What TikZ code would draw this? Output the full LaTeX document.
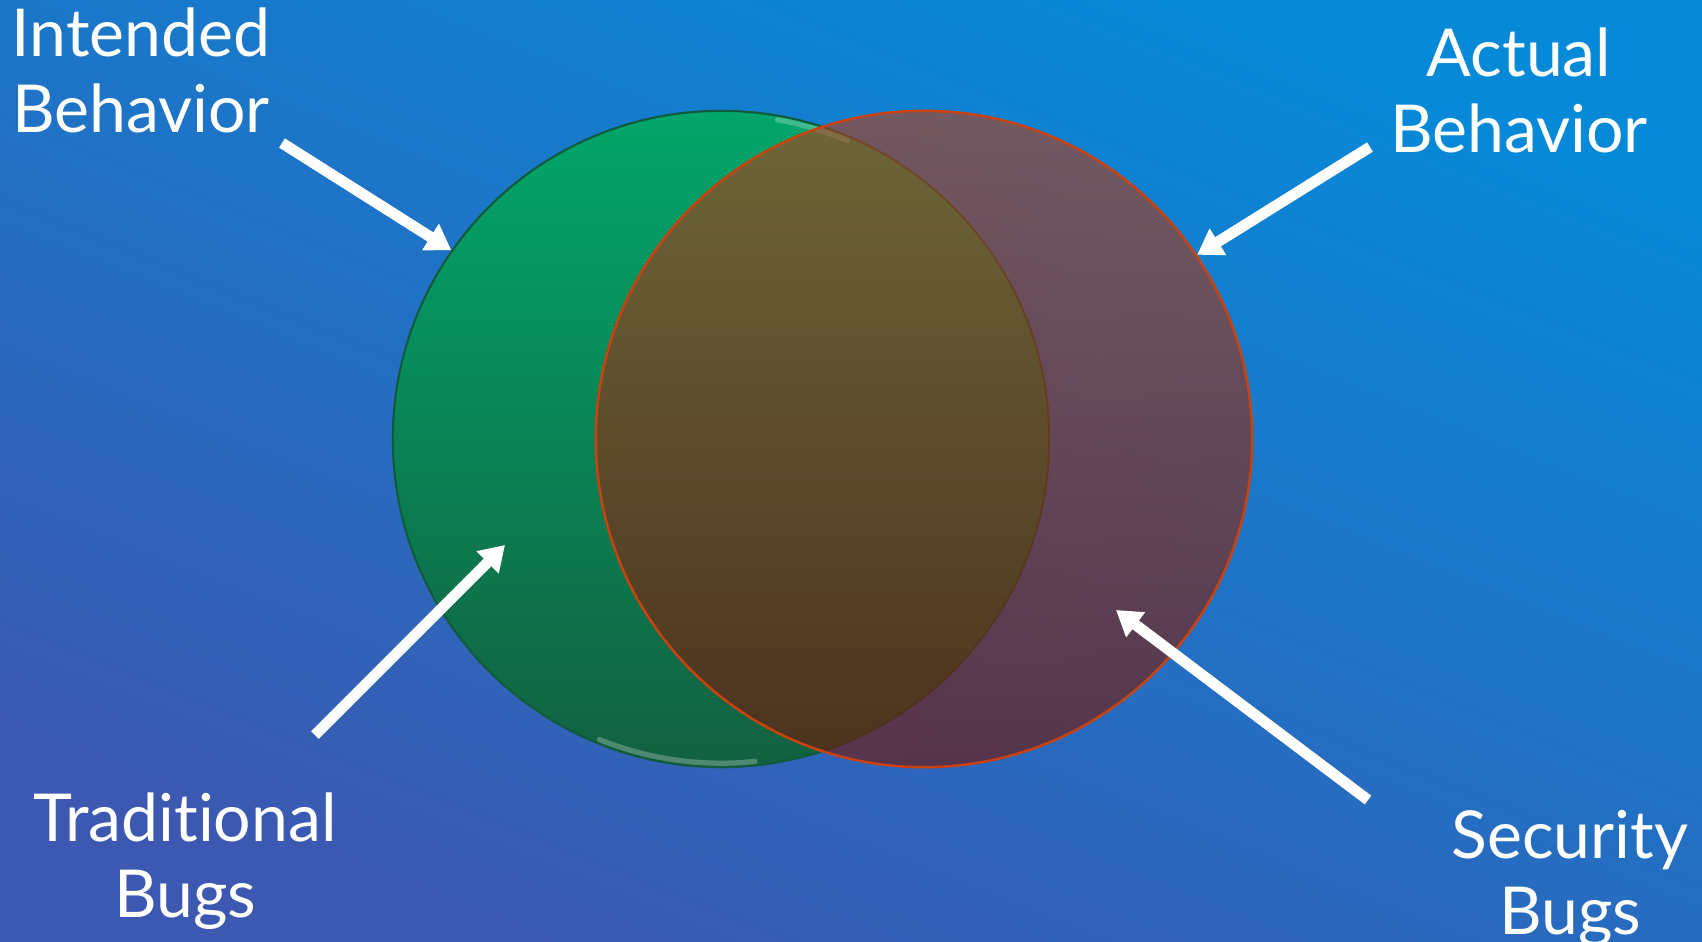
\documentclass[tikz,border=0pt]{standalone}
\usepackage{fontspec}
\setmainfont{Lato}[Ligatures=NoCommon]
\usepackage{xcolor}
\usetikzlibrary{arrows.meta,positioning}
\definecolor{bgtop}{RGB}{6,138,216}
\definecolor{bgbot}{RGB}{60,88,176}
\definecolor{greentop}{RGB}{2,166,106}
\definecolor{greenbot}{RGB}{18,96,64}
\definecolor{greenedge}{RGB}{16,90,62}
\definecolor{redtop}{RGB}{176,64,28}
\definecolor{redbot}{RGB}{112,22,8}
\definecolor{rededge}{RGB}{204,66,14}

\begin{document}
\begin{tikzpicture}[x=0.01cm, y=-0.01cm,
  lbl/.style={text=white, align=center, font=\fontsize{18.8}{21.5}\selectfont, inner sep=0pt, anchor=base},
  ptr/.style={white, line width=3.1pt, -{Triangle[width=8.5pt, length=7pt]}},
  gloss/.style={white, opacity=0.25, line width=1.5pt, line cap=round},
  setbox/.style={circle, minimum size=6.56cm, inner sep=0pt}]
\shade[top color=bgtop, bottom color=bgbot, shading angle=-22] (0,0) rectangle (1702,942);
\useasboundingbox (0,0) rectangle (1702,942);
% the two sets
\node[setbox, draw=greenedge, line width=0.6pt, top color=greentop, bottom color=greenbot] (intended) at (721,439) {};
\draw[gloss] ([shift={(248:3.24cm)}]intended.center) arc[start angle=248, end angle=276, radius=3.24cm];
\draw[gloss] ([shift={(67:3.24cm)}]intended.center) arc[start angle=67, end angle=80, radius=3.24cm];
\node[setbox, draw=rededge, line width=0.7pt, top color=redtop, bottom color=redbot, fill opacity=0.62] (actual) at (924,439) {};
% labels (base = last line)
\node[lbl] (ib) at (141,132) {Intended\\Behavior};
\node[lbl] (ab) at (1519,152) {Actual\\Behavior};
\node[lbl] (tb) at (185,917) {Traditional\\Bugs};
\node[lbl] (sb) at (1570,934) {Security\\Bugs};
% arrows
\coordinate (ib-from) at (282,143);
\coordinate (ab-from) at (1370,147);
\coordinate (tb-from) at (315,735);
\coordinate (sb-from) at (1368,800);
\coordinate (tb-to) at (505,545);
\coordinate (sb-to) at (1116,610);
\draw[ptr] (ib-from) -- (intended.145);
\draw[ptr] (ab-from) -- (actual.34);
\draw[ptr] (tb-from) -- (tb-to);
\draw[ptr] (sb-from) -- (sb-to);
\end{tikzpicture}
\end{document}
